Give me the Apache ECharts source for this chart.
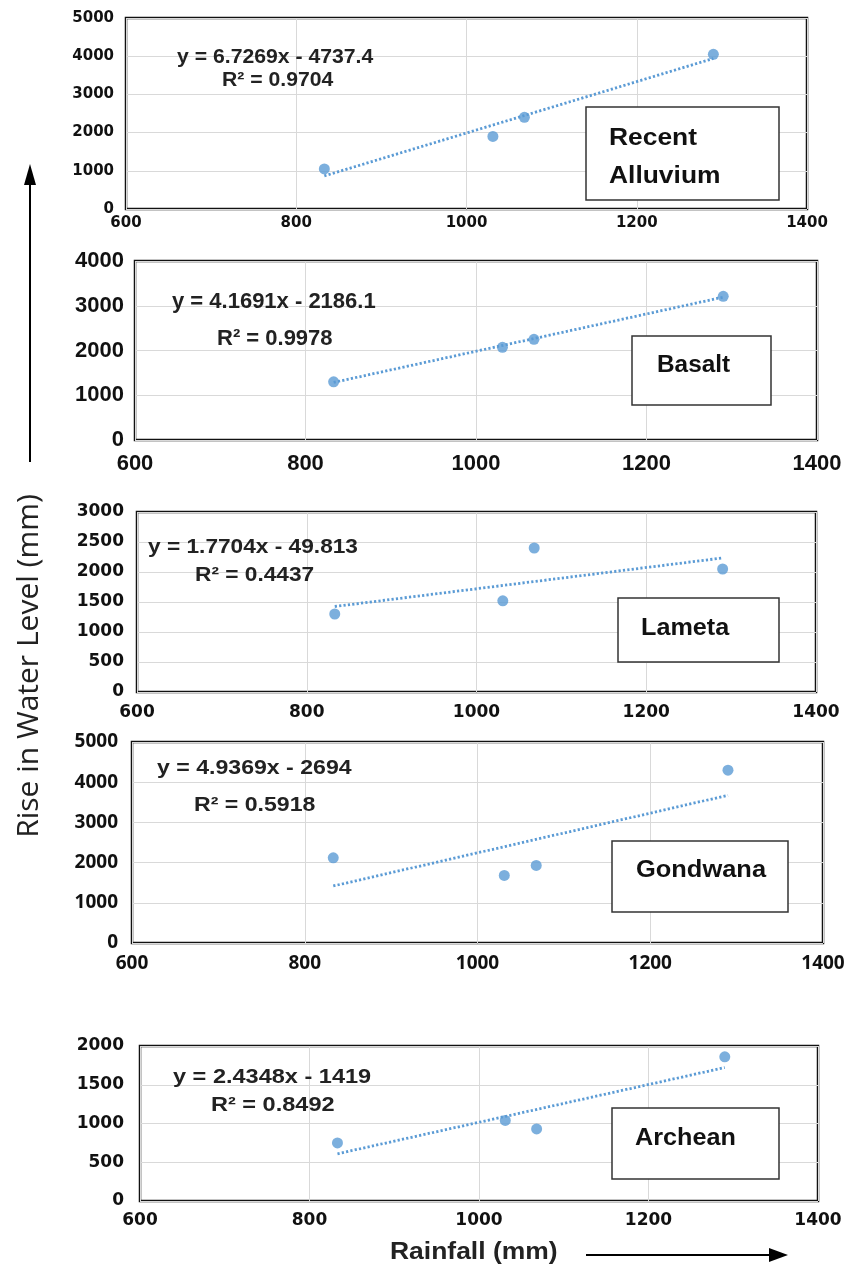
<!DOCTYPE html>
<html>
<head>
<meta charset="utf-8">
<script src="https://cdn.jsdelivr.net/npm/echarts@6/dist/echarts.min.js"></script>
<style>
  html, body { margin: 0; padding: 0; background: #fff; }
  #chart { width: 862px; height: 1268px; }
</style>
</head>
<body>
<div id="chart"></div>
<script>
// values
const rainfall = [833, 1031, 1068, 1290]
const unitNames = ['Recent\nAlluvium', 'Basalt', 'Lameta', 'Gondwana', 'Archean']
const riseAlluvium = [1050, 1900, 2400, 4050]
const riseBasalt = [1300, 2070, 2250, 3210]
const riseLameta = [1300, 1520, 2400, 2050]
const riseGondwana = [2120, 1680, 1930, 4300]
const riseArchean = [750, 1040, 930, 1860]
const riseByUnit = [riseAlluvium, riseBasalt, riseLameta, riseGondwana, riseArchean]

// trendline equations printed on each panel
const slopes = [6.7269, 4.1691, 1.7704, 4.9369, 2.4348]
const intercepts = [-4737.4, -2186.1, -49.813, -2694, -1419]
const r2Values = ['0.9704', '0.9978', '0.4437', '0.5918', '0.8492']

// axis ticks
const xMin = 600, xMax = 1400, xStep = 200
const yMaxes = [5000, 4000, 3000, 5000, 2000]
const ySteps = [1000, 1000, 500, 1000, 500]

const blue = '#5b9bd5'
const dejavu = '"DejaVu Sans", sans-serif'
const libsans = '"Liberation Sans", Arial, sans-serif'
const opensans = '"Open Sans", sans-serif'

// layout of each panel (pixels): eq = [x, y, size, stretch], r2 = [x, y], label = [x, y, size, lineHeight, stretch]
const panels = [
  { grid: [126, 18, 681, 191], tick: { font: dejavu, size: 15 }, yGap: 12, xGap: 7,
    eq: [177, 57, 20, 1.06], r2: [222, 80], box: [586, 107, 193, 93], label: [609, 157, 24, 38, 1.1] },
  { grid: [135, 261, 682, 179], tick: { font: libsans, size: 22 }, yGap: 11, xGap: 13,
    eq: [172, 302, 22, 1.0], r2: [217, 339], box: [632, 336, 139, 69], label: [657, 366, 23, 30, 1.06] },
  { grid: [137, 512, 679, 180], tick: { font: dejavu, size: 17 }, yGap: 13, xGap: 12,
    eq: [148, 547, 21, 1.08], r2: [195, 575], box: [618, 598, 161, 64], label: [641, 628, 24, 30, 1.05] },
  { grid: [132, 742, 691, 201], tick: { font: opensans, size: 19 }, yGap: 14, xGap: 11,
    eq: [157, 768, 21, 1.1], r2: [194, 805], box: [612, 841, 176, 71], label: [636, 870, 24, 30, 1.06] },
  { grid: [140, 1046, 678, 155], tick: { font: dejavu, size: 17 }, yGap: 16, xGap: 11,
    eq: [173, 1077, 21, 1.12], r2: [211, 1105], box: [612, 1108, 167, 71], label: [635, 1138, 24, 30, 1.05] }
]

const grids = [], xAxes = [], yAxes = [], series = [], graphics = []

panels.forEach((p, i) => {
  grids.push({
    left: p.grid[0], top: p.grid[1], width: p.grid[2], height: p.grid[3],
    show: true, borderColor: '#111', borderWidth: 2.5, backgroundColor: 'transparent'
  })
  const labelStyle = {
    fontFamily: p.tick.font, fontSize: p.tick.size, fontWeight: 'bold', color: '#111',
    formatter: v => String(v)
  }
  xAxes.push({
    gridIndex: i, type: 'value', min: xMin, max: xMax, interval: xStep,
    axisLine: { show: false }, axisTick: { show: false },
    axisLabel: Object.assign({ margin: p.xGap }, labelStyle),
    splitLine: { show: true, lineStyle: { color: '#d9d9d9', width: 1 } }
  })
  yAxes.push({
    gridIndex: i, type: 'value', min: 0, max: yMaxes[i], interval: ySteps[i],
    axisLine: { show: false }, axisTick: { show: false },
    axisLabel: Object.assign({ margin: p.yGap }, labelStyle),
    splitLine: { show: true, lineStyle: { color: '#d9d9d9', width: 1 } }
  })

  // trendline drawn from the printed equation over the rainfall range
  const x0 = Math.min(...rainfall), x1 = Math.max(...rainfall)
  series.push({
    type: 'line', xAxisIndex: i, yAxisIndex: i, symbol: 'none', silent: true,
    data: [[x0, slopes[i] * x0 + intercepts[i]], [x1, slopes[i] * x1 + intercepts[i]]],
    lineStyle: { color: blue, width: 2.8, type: [2.2, 2.2] }, z: 2
  })
  series.push({
    type: 'scatter', xAxisIndex: i, yAxisIndex: i, symbol: 'circle', symbolSize: 11,
    data: rainfall.map((r, k) => [r, riseByUnit[i][k]]),
    itemStyle: { color: blue }, z: 3
  })

  // equation and R squared
  const eqText = 'y = ' + slopes[i] + 'x - ' + Math.abs(intercepts[i])
  const eqFont = 'bold ' + p.eq[2] + 'px ' + libsans
  graphics.push({
    type: 'text', x: p.eq[0], y: p.eq[1], scaleX: p.eq[3], z: 10,
    style: { text: eqText, font: eqFont, fill: '#222', verticalAlign: 'middle' }
  })
  graphics.push({
    type: 'text', x: p.r2[0], y: p.r2[1], scaleX: p.eq[3], z: 10,
    style: { text: 'R\u00b2 = ' + r2Values[i], font: eqFont, fill: '#222', verticalAlign: 'middle' }
  })

  // unit label box
  graphics.push({
    type: 'rect', shape: { x: p.box[0], y: p.box[1], width: p.box[2], height: p.box[3] },
    style: { fill: '#fff', stroke: '#333', lineWidth: 1.5 }, z: 5
  })
  graphics.push({
    type: 'text', x: p.label[0], y: p.label[1], scaleX: p.label[4], z: 10,
    style: {
      text: unitNames[i], font: 'bold ' + p.label[2] + 'px ' + libsans, fill: '#111',
      lineHeight: p.label[3], verticalAlign: 'middle'
    }
  })
})

// axis titles and arrows
graphics.push({
  type: 'text', x: 29, y: 666, rotation: Math.PI / 2, z: 10,
  style: {
    text: 'Rise in Water Level (mm)', font: '30px ' + opensans, fill: '#222',
    align: 'center', verticalAlign: 'middle'
  }
})
graphics.push({
  type: 'line', shape: { x1: 30, y1: 462, x2: 30, y2: 182 },
  style: { stroke: '#000', lineWidth: 2 }, z: 10
})
graphics.push({
  type: 'polygon', shape: { points: [[30, 164], [24, 185], [36, 185]] },
  style: { fill: '#000' }, z: 10
})
graphics.push({
  type: 'text', x: 390, y: 1253, scaleX: 1.15, z: 10,
  style: {
    text: 'Rainfall (mm)', font: 'bold 23px ' + libsans, fill: '#222',
    verticalAlign: 'middle'
  }
})
graphics.push({
  type: 'line', shape: { x1: 586, y1: 1255, x2: 772, y2: 1255 },
  style: { stroke: '#000', lineWidth: 2 }, z: 10
})
graphics.push({
  type: 'polygon', shape: { points: [[788, 1255], [769, 1248], [769, 1262]] },
  style: { fill: '#000' }, z: 10
})

const chart = echarts.init(document.getElementById('chart'))
chart.setOption({
  animation: false,
  backgroundColor: '#fff',
  grid: grids,
  xAxis: xAxes,
  yAxis: yAxes,
  series: series,
  graphic: graphics
})
</script>
</body>
</html>
